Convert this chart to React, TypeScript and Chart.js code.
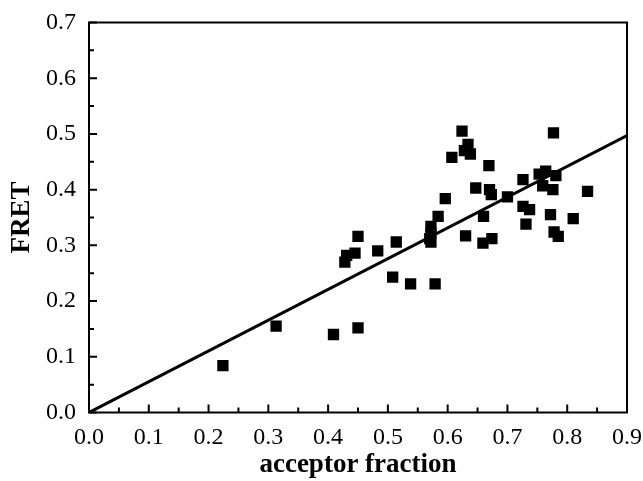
import React, { useEffect, useRef } from "react";
import { Chart, registerables } from "chart.js";

Chart.register(...registerables);

const xValues = [
  0.224, 0.313, 0.409, 0.45, 0.428, 0.431, 0.445, 0.45, 0.483, 0.514, 0.508, 0.538,
  0.572, 0.572, 0.57, 0.572, 0.579, 0.584, 0.596, 0.607, 0.624, 0.634, 0.628, 0.638,
  0.63, 0.647, 0.659, 0.66, 0.669, 0.67, 0.673, 0.674, 0.7, 0.726, 0.726, 0.737,
  0.731, 0.753, 0.764, 0.781, 0.759, 0.776, 0.777, 0.772, 0.778, 0.785, 0.81, 0.834,
];
const yValues = [
  0.084, 0.155, 0.14, 0.152, 0.27, 0.282, 0.286, 0.316, 0.29, 0.306, 0.243, 0.231,
  0.334, 0.322, 0.312, 0.306, 0.231, 0.352, 0.384, 0.458, 0.505, 0.481, 0.47, 0.464,
  0.317, 0.403, 0.304, 0.352, 0.443, 0.4, 0.391, 0.312, 0.387, 0.418, 0.37, 0.364,
  0.338, 0.428, 0.433, 0.425, 0.407, 0.4, 0.502, 0.355, 0.324, 0.316, 0.348, 0.397,
];
const fitX = [0, 0.9];
const fitY = [0, 0.497];
const xTickMax = 0.9;
const yTickMax = 0.7;

const frameAndTicks = {
  id: "frameAndTicks",
  afterDraw(chart: any) {
    const { ctx, chartArea } = chart;
    const xs = chart.scales.x;
    const ys = chart.scales.y;
    ctx.save();
    ctx.strokeStyle = "#000";
    ctx.lineWidth = 2;
    ctx.beginPath();
    for (let i = 0; i <= 18; i++) {
      const v = i * 0.05;
      const px = xs.getPixelForValue(v);
      const len = i % 2 === 0 ? 8 : 5;
      ctx.moveTo(px, chartArea.bottom);
      ctx.lineTo(px, chartArea.bottom - len);
    }
    for (let i = 0; i <= 14; i++) {
      const v = i * 0.05;
      const py = ys.getPixelForValue(v);
      const len = i % 2 === 0 ? 8 : 5;
      ctx.moveTo(chartArea.left, py);
      ctx.lineTo(chartArea.left + len, py);
    }
    ctx.stroke();
    ctx.strokeRect(chartArea.left, chartArea.top, chartArea.right - chartArea.left, chartArea.bottom - chartArea.top);
    ctx.restore();
  },
};

export default function App() {
  const ref = useRef<HTMLCanvasElement | null>(null);
  useEffect(() => {
    if (!ref.current) return;
    const font = "'Liberation Serif', 'Times New Roman', serif";
    const chart = new Chart(ref.current, {
      type: "scatter",
      data: {
        datasets: [
          {
            type: "line",
            data: fitX.map((x, i) => ({ x, y: fitY[i] })),
            borderColor: "#000",
            borderWidth: 3,
            pointRadius: 0,
            fill: false,
          } as any,
          {
            data: xValues.map((x, i) => ({ x, y: yValues[i] })),
            pointStyle: "rect",
            pointRadius: 8,
            backgroundColor: "#000",
            borderColor: "#000",
            borderWidth: 0,
          },
        ],
      },
      options: {
        animation: false,
        responsive: true,
        maintainAspectRatio: false,
        layout: { padding: { top: 22.5, right: 16, left: 0, bottom: 0 } },
        plugins: { legend: { display: false }, tooltip: { enabled: false } },
        scales: {
          x: {
            type: "linear",
            min: 0,
            max: xTickMax,
            afterFit: (s: any) => {
              s.height = 68.5;
              s.paddingLeft = 0;
              s.paddingRight = 0;
            },
            grid: { display: false, drawTicks: false, tickLength: 0 },
            border: { display: false },
            ticks: {
              stepSize: 0.1,
              padding: 11,
              color: "#000",
              font: { family: font, size: 24 },
              maxRotation: 0,
              callback: (v: any) => Number(v).toFixed(1),
            },
            title: {
              display: true,
              text: "acceptor fraction",
              color: "#000",
              font: { family: font, size: 27, weight: "bold" },
              padding: { top: 0, bottom: 0 },
            },
          },
          y: {
            type: "linear",
            min: 0,
            max: yTickMax,
            afterFit: (s: any) => {
              s.width = 89;
              s.paddingTop = 0;
              s.paddingBottom = 0;
            },
            grid: { display: false, drawTicks: false, tickLength: 0 },
            border: { display: false },
            ticks: {
              stepSize: 0.1,
              padding: 13,
              color: "#000",
              font: { family: font, size: 24 },
              callback: (v: any) => Number(v).toFixed(1),
            },
            title: {
              display: true,
              text: "FRET",
              color: "#000",
              font: { family: font, size: 27, weight: "bold" },
              padding: { top: 6, bottom: 0 },
            },
          },
        },
      },
      plugins: [frameAndTicks],
    });
    return () => chart.destroy();
  }, []);
  return (
    <div style={{ position: "fixed", left: 0, top: 0, width: 643, height: 481, background: "#fff" }}>
      <canvas ref={ref} />
    </div>
  );
}
